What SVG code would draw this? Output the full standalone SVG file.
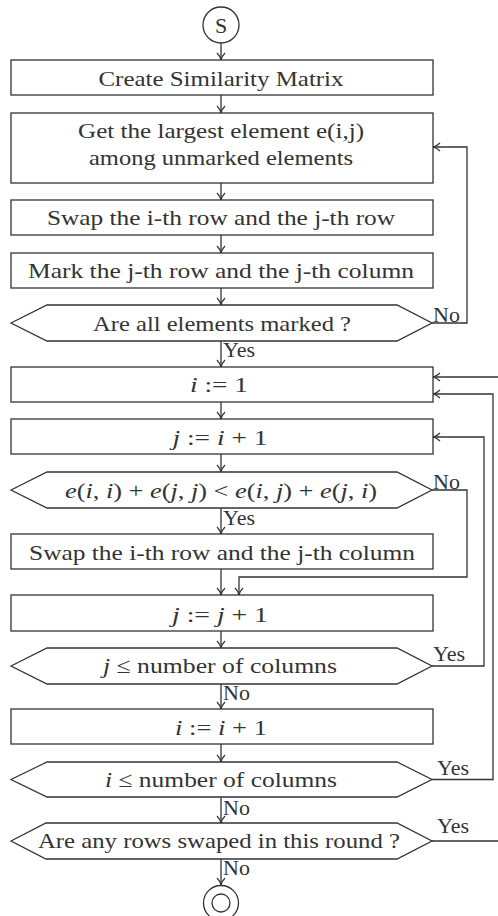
<svg xmlns="http://www.w3.org/2000/svg" width="498" height="916" viewBox="0 0 498 916">
<defs>
<marker id="arr" markerWidth="10" markerHeight="10" refX="8" refY="5" orient="auto" markerUnits="userSpaceOnUse">
<path d="M1,1 Q4,4 8,5 Q4,6 1,9" fill="none" stroke="#333" stroke-width="1.2"/>
</marker>
</defs>
<style>
.b{fill:#fff;stroke:#333;stroke-width:1.3}
.t{font-family:"Liberation Serif","Times New Roman",serif;font-size:22px;fill:#333;text-anchor:middle}
.l{font-family:"Liberation Serif","Times New Roman",serif;font-size:22px;fill:#333}
.m{font-style:italic}
.c{fill:none;stroke:#333;stroke-width:1.3;marker-end:url(#arr)}
</style>
<rect width="498" height="916" fill="#fff"/>
<g id="connectors">
<path class="c" d="M221,43V60"/>
<path class="c" d="M221,95V113"/>
<path class="c" d="M221,183V200"/>
<path class="c" d="M221,235V253"/>
<path class="c" d="M221,288V305"/>
<path class="c" d="M221,341V367"/>
<path class="c" d="M221,402V419"/>
<path class="c" d="M221,454V472"/>
<path class="c" d="M221,508V534"/>
<path class="c" d="M221,569V595"/>
<path class="c" d="M221,631V648"/>
<path class="c" d="M221,684V709"/>
<path class="c" d="M221,744V762"/>
<path class="c" d="M221,797V823"/>
<path class="c" d="M221,859V885"/>
<path class="c" d="M432,323H467V147H433"/>
<path class="c" d="M432,490H467V577H239V595"/>
<path class="c" d="M432,666H484V437H433"/>
<path class="c" d="M432,779.5H493V394H433"/>
<path class="c" d="M432,841H506V377H433"/>
<text class="l" x="433" y="322">No</text>
<text class="l" x="223" y="357">Yes</text>
<text class="l" x="433" y="489">No</text>
<text class="l" x="223" y="525">Yes</text>
<text class="l" x="433" y="661">Yes</text>
<text class="l" x="223" y="700">No</text>
<text class="l" x="437" y="775">Yes</text>
<text class="l" x="223" y="815">No</text>
<text class="l" x="437" y="833">Yes</text>
<text class="l" x="223" y="875">No</text>
</g>
<g id="start"><circle class="b" cx="221" cy="25" r="18"/><text class="t" x="221" y="33">S</text></g>
<g id="n1"><rect class="b" x="11" y="60" width="422" height="35"/><text class="t" x="221" y="86" textLength="245" lengthAdjust="spacingAndGlyphs">Create Similarity Matrix</text></g>
<g id="n2"><rect class="b" x="11" y="113" width="422" height="70"/><text class="t" x="221" y="138" textLength="286" lengthAdjust="spacingAndGlyphs">Get the largest element e(i,j)</text><text class="t" x="221" y="165" textLength="264" lengthAdjust="spacingAndGlyphs">among unmarked elements</text></g>
<g id="n3"><rect class="b" x="11" y="200" width="422" height="35"/><text class="t" x="221" y="225" textLength="348" lengthAdjust="spacingAndGlyphs">Swap the i-th row and the j-th row</text></g>
<g id="n4"><rect class="b" x="11" y="253" width="422" height="35"/><text class="t" x="221" y="278" textLength="386" lengthAdjust="spacingAndGlyphs">Mark the j-th row and the j-th column</text></g>
<g id="d1"><polygon class="b" points="11,323 47,305 397,305 432,323 397,341 47,341"/><text class="t" x="222" y="331" textLength="258" lengthAdjust="spacingAndGlyphs">Are all elements marked ?</text></g>
<g id="n5"><rect class="b" x="11" y="367" width="422" height="35"/><text class="t" x="219" y="392" textLength="58" lengthAdjust="spacingAndGlyphs"><tspan class="m">i</tspan> := 1</text></g>
<g id="n6"><rect class="b" x="11" y="419" width="422" height="35"/><text class="t" x="220" y="445" textLength="95" lengthAdjust="spacingAndGlyphs"><tspan class="m">j</tspan> := <tspan class="m">i</tspan> + 1</text></g>
<g id="d2"><polygon class="b" points="11,490 47,472 397,472 432,490 397,508 47,508"/><text class="t" x="221" y="498" textLength="312" lengthAdjust="spacingAndGlyphs"><tspan class="m">e</tspan>(<tspan class="m">i</tspan>, <tspan class="m">i</tspan>) + <tspan class="m">e</tspan>(<tspan class="m">j</tspan>, <tspan class="m">j</tspan>) &lt; <tspan class="m">e</tspan>(<tspan class="m">i</tspan>, <tspan class="m">j</tspan>) + <tspan class="m">e</tspan>(<tspan class="m">j</tspan>, <tspan class="m">i</tspan>)</text></g>
<g id="n7"><rect class="b" x="11" y="534" width="422" height="35"/><text class="t" x="222" y="560" textLength="386" lengthAdjust="spacingAndGlyphs">Swap the i-th row and the j-th column</text></g>
<g id="n8"><rect class="b" x="11" y="595" width="422" height="36"/><text class="t" x="220" y="622" textLength="96" lengthAdjust="spacingAndGlyphs"><tspan class="m">j</tspan> := <tspan class="m">j</tspan> + 1</text></g>
<g id="d3"><polygon class="b" points="11,666 47,648 397,648 432,666 397,684 47,684"/><text class="t" x="220" y="673" textLength="234" lengthAdjust="spacingAndGlyphs"><tspan class="m">j</tspan> ≤ number of columns</text></g>
<g id="n9"><rect class="b" x="11" y="709" width="422" height="35"/><text class="t" x="221" y="735" textLength="92" lengthAdjust="spacingAndGlyphs"><tspan class="m">i</tspan> := <tspan class="m">i</tspan> + 1</text></g>
<g id="d4"><polygon class="b" points="11,779.5 47,762 397,762 432,779.5 397,797 47,797"/><text class="t" x="221" y="787" textLength="232" lengthAdjust="spacingAndGlyphs"><tspan class="m">i</tspan> ≤ number of columns</text></g>
<g id="d5"><polygon class="b" points="11,841 46,823 397,823 432,841 397,859 46,859"/><text class="t" x="219" y="848" textLength="362" lengthAdjust="spacingAndGlyphs">Are any rows swaped in this round ?</text></g>
<g id="end"><circle class="b" cx="221" cy="903" r="17.5"/><circle class="b" cx="221" cy="903" r="9"/></g>
</svg>
